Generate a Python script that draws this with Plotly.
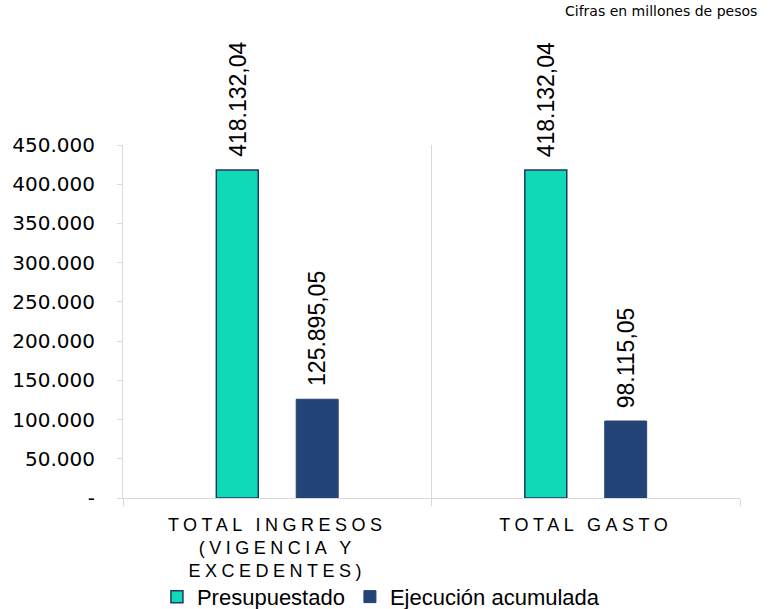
import plotly.graph_objects as go

categories = ["TOTAL INGRESOS<br>(VIGENCIA Y<br>EXCEDENTES)", "TOTAL GASTO"]
presupuestado = [418132.04, 418132.04]
ejecucion = [125895.05, 98115.05]
y_tickvals = [0, 50000, 100000, 150000, 200000, 250000, 300000, 350000, 400000, 450000]
y_ticktext = ["-", "50.000", "100.000", "150.000", "200.000", "250.000", "300.000", "350.000", "400.000", "450.000"]

span = '<span style="letter-spacing:4.5px">'
cat_labels = [span + c.replace("<br>", "</span><br>" + span) + "</span>" for c in categories]

W, H = 770, 609
M = dict(l=123, r=30, t=145, b=111)
BARGAP, GROUPGAP = 0.482, 0.475


def fmt_es(v):
    s = f"{v:,.2f}"
    return s.replace(",", "X").replace(".", ",").replace("X", ".")


fig = go.Figure()
fig.add_trace(go.Bar(
    name="Presupuestado", x=cat_labels, y=presupuestado,
    marker=dict(color="#10D9B6", line=dict(color="#1F3864", width=1.5)),
    hovertemplate="%{y:,.2f}<extra>Presupuestado</extra>",
))
fig.add_trace(go.Bar(
    name="Ejecución acumulada", x=cat_labels, y=ejecucion,
    marker=dict(color="#244478", line=dict(color="#244478", width=1)),
    hovertemplate="%{y:,.2f}<extra>Ejecución acumulada</extra>",
))

# rotated value labels above each bar (offset follows the grouped-bar layout)
plot_w = W - M["l"] - M["r"]
slot_px = plot_w / len(categories) * (1 - BARGAP) / 2
annotations = []
for series, side in ((presupuestado, -1), (ejecucion, 1)):
    for cat, val in zip(cat_labels, series):
        annotations.append(dict(
            x=cat, y=val, xref="x", yref="y", text=fmt_es(val), textangle=-90,
            showarrow=False, xanchor="center", yanchor="bottom",
            xshift=side * slot_px / 2, yshift=11,
            font=dict(family="Liberation Sans", size=23, color="#000000"),
        ))
annotations.append(dict(text="Cifras en millones de pesos", xref="paper", yref="paper",
                        x=1.031, y=1.0, yshift=134, xanchor="right", yanchor="middle", showarrow=False,
                        font=dict(family="DejaVu Sans", size=14, color="#000000")))

fig.update_layout(
    width=W, height=H,
    margin=dict(**M, autoexpand=False),
    paper_bgcolor="white", plot_bgcolor="white",
    separators=",.",
    barmode="group", bargap=BARGAP, bargroupgap=GROUPGAP,
    font=dict(family="DejaVu Sans", color="#000000"),
    showlegend=True,
    legend=dict(orientation="h", x=0.055, xanchor="left", y=-0.28, yanchor="middle",
                bgcolor="rgba(0,0,0,0)",
                font=dict(family="Liberation Sans", size=22, color="#000000"),
                itemwidth=30, tracegroupgap=0),
    annotations=annotations,
)
fig.update_xaxes(
    automargin=False,
    showgrid=True, gridcolor="#D9D9D9", gridwidth=1,
    tickson="boundaries", ticks="outside", ticklen=7, tickcolor="#D9D9D9",
    showline=True, linecolor="#D9D9D9", linewidth=1,
    ticklabelstandoff=10,
    tickfont=dict(family="Liberation Sans", size=18, color="#000000"),
)
fig.update_yaxes(
    automargin=False,
    range=[0, 450000], tickvals=y_tickvals, ticktext=y_ticktext,
    showgrid=False, zeroline=False,
    showline=True, linecolor="#D9D9D9", linewidth=1,
    ticks="outside", ticklen=5, tickcolor="#D9D9D9",
    ticklabelstandoff=18,
    tickfont=dict(family="DejaVu Sans", size=20, color="#000000"),
)

fig.write_html("out.html", config={"displayModeBar": False},
               post_script="document.body.style.margin='0px';document.body.style.overflow='hidden';")
